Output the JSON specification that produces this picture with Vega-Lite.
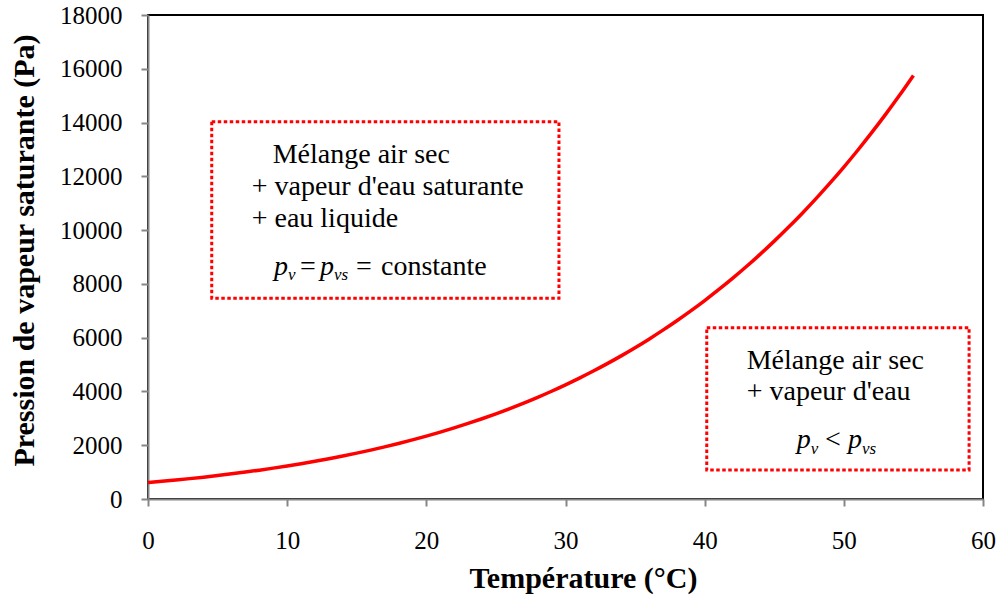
{
  "$schema": "https://vega.github.io/schema/vega-lite/v6.json",
  "autosize": "none",
  "width": 835,
  "height": 484,
  "padding": {"left": 148, "top": 15, "right": 18, "bottom": 98},
  "background": "white",
  "config": {
    "font": "Liberation Serif",
    "text": {"font": "Liberation Serif"},
    "view": {"stroke": "#000000", "strokeWidth": 2},
    "axis": {
      "grid": false,
      "domainColor": "#868686",
      "domainWidth": 2,
      "tickColor": "#868686",
      "tickWidth": 2,
      "tickSize": 7,
      "labelFont": "Liberation Serif",
      "labelFontSize": 25,
      "labelColor": "#000000",
      "labelFlush": false,
      "titleFont": "Liberation Serif",
      "titleFontSize": 30,
      "titleFontWeight": "bold",
      "titleColor": "#000000",
      "zindex": 1
    }
  },
  "datasets": {
    "curve": [
      {"x": 0, "y": 611}, {"x": 1, "y": 657}, {"x": 2, "y": 706}, {"x": 3, "y": 758},
      {"x": 4, "y": 813}, {"x": 5, "y": 872}, {"x": 6, "y": 935}, {"x": 7, "y": 1002},
      {"x": 8, "y": 1073}, {"x": 9, "y": 1148}, {"x": 10, "y": 1228}, {"x": 11, "y": 1313},
      {"x": 12, "y": 1403}, {"x": 13, "y": 1498}, {"x": 14, "y": 1599}, {"x": 15, "y": 1706},
      {"x": 16, "y": 1819}, {"x": 17, "y": 1938}, {"x": 18, "y": 2065}, {"x": 19, "y": 2198},
      {"x": 20, "y": 2339}, {"x": 21, "y": 2488}, {"x": 22, "y": 2645}, {"x": 23, "y": 2810},
      {"x": 24, "y": 2985}, {"x": 25, "y": 3169}, {"x": 26, "y": 3363}, {"x": 27, "y": 3567},
      {"x": 28, "y": 3782}, {"x": 29, "y": 4008}, {"x": 30, "y": 4246}, {"x": 31, "y": 4495},
      {"x": 32, "y": 4758}, {"x": 33, "y": 5034}, {"x": 34, "y": 5323}, {"x": 35, "y": 5627},
      {"x": 36, "y": 5945}, {"x": 37, "y": 6280}, {"x": 38, "y": 6630}, {"x": 39, "y": 6997},
      {"x": 40, "y": 7381}, {"x": 41, "y": 7784}, {"x": 42, "y": 8205}, {"x": 43, "y": 8646},
      {"x": 44, "y": 9108}, {"x": 45, "y": 9590}, {"x": 46, "y": 10094}, {"x": 47, "y": 10620},
      {"x": 48, "y": 11171}, {"x": 49, "y": 11745}, {"x": 50, "y": 12344}, {"x": 51, "y": 12970},
      {"x": 52, "y": 13623}, {"x": 53, "y": 14303}, {"x": 54, "y": 15012}, {"x": 55, "y": 15752}
    ],
    "boxes": [
      {"x": 4.58, "x2": 29.53, "y": 14032, "y2": 7464},
      {"x": 40.15, "x2": 59.0, "y": 6371, "y2": 1078}
    ],
    "plain": [
      {"x": 8.96, "y": 12485, "t": "Mélange air sec"},
      {"x": 7.45, "y": 11306, "t": "+ vapeur d'eau saturante"},
      {"x": 7.45, "y": 10127, "t": "+ eau liquide"},
      {"x": 10.92, "y": 8331, "t": "="},
      {"x": 14.95, "y": 8331, "t": "="},
      {"x": 16.74, "y": 8331, "t": "constante"},
      {"x": 43.02, "y": 4823, "t": "Mélange air sec"},
      {"x": 43.02, "y": 3682, "t": "+ vapeur d'eau"},
      {"x": 48.65, "y": 1886, "t": "<"}
    ],
    "italic": [
      {"x": 9.05, "y": 8331, "t": "p"},
      {"x": 12.36, "y": 8331, "t": "p"},
      {"x": 46.62, "y": 1886, "t": "p"},
      {"x": 50.3, "y": 1886, "t": "p"}
    ],
    "subs": [
      {"x": 10.06, "y": 8131, "t": "v"},
      {"x": 13.37, "y": 8131, "t": "vs"},
      {"x": 47.62, "y": 1686, "t": "v"},
      {"x": 51.31, "y": 1686, "t": "vs"}
    ]
  },
  "encoding": {
    "x": {
      "field": "x", "type": "quantitative",
      "scale": {"domain": [0, 60], "nice": false},
      "axis": {
        "title": "Température (°C)",
        "values": [0, 10, 20, 30, 40, 50, 60],
        "labelPadding": 42,
        "labelBaseline": "alphabetic",
        "titleX": 435, "titleY": 88, "titleBaseline": "alphabetic", "titleAnchor": null, "titleAlign": "center"
      }
    },
    "y": {
      "field": "y", "type": "quantitative",
      "scale": {"domain": [0, 18000], "nice": false},
      "axis": {
        "title": "Pression de vapeur saturante (Pa)",
        "values": [0, 2000, 4000, 6000, 8000, 10000, 12000, 14000, 16000, 18000],
        "format": "d",
        "labelPadding": 19,
        "titleAngle": -90,
        "titleX": -115, "titleY": 235, "titleBaseline": "alphabetic", "titleAlign": "center"
      }
    }
  },
  "layer": [
    {
      "data": {"name": "curve"},
      "mark": {"type": "line", "color": "#ff0000", "strokeWidth": 3.5, "interpolate": "monotone", "clip": false}
    },
    {
      "data": {"name": "boxes"},
      "mark": {"type": "rect", "filled": false, "stroke": "#ff0000", "strokeWidth": 3, "strokeDash": [3.5, 2.5]},
      "encoding": {"x2": {"field": "x2"}, "y2": {"field": "y2"}}
    },
    {
      "data": {"name": "plain"},
      "mark": {"type": "text", "font": "Liberation Serif", "align": "left", "baseline": "alphabetic", "fontSize": 28, "color": "#000000"},
      "encoding": {"text": {"field": "t"}}
    },
    {
      "data": {"name": "italic"},
      "mark": {"type": "text", "font": "Liberation Serif", "align": "left", "baseline": "alphabetic", "fontSize": 28, "fontStyle": "italic", "color": "#000000"},
      "encoding": {"text": {"field": "t"}}
    },
    {
      "data": {"name": "subs"},
      "mark": {"type": "text", "font": "Liberation Serif", "align": "left", "baseline": "alphabetic", "fontSize": 17, "fontStyle": "italic", "color": "#000000"},
      "encoding": {"text": {"field": "t"}}
    }
  ]
}
